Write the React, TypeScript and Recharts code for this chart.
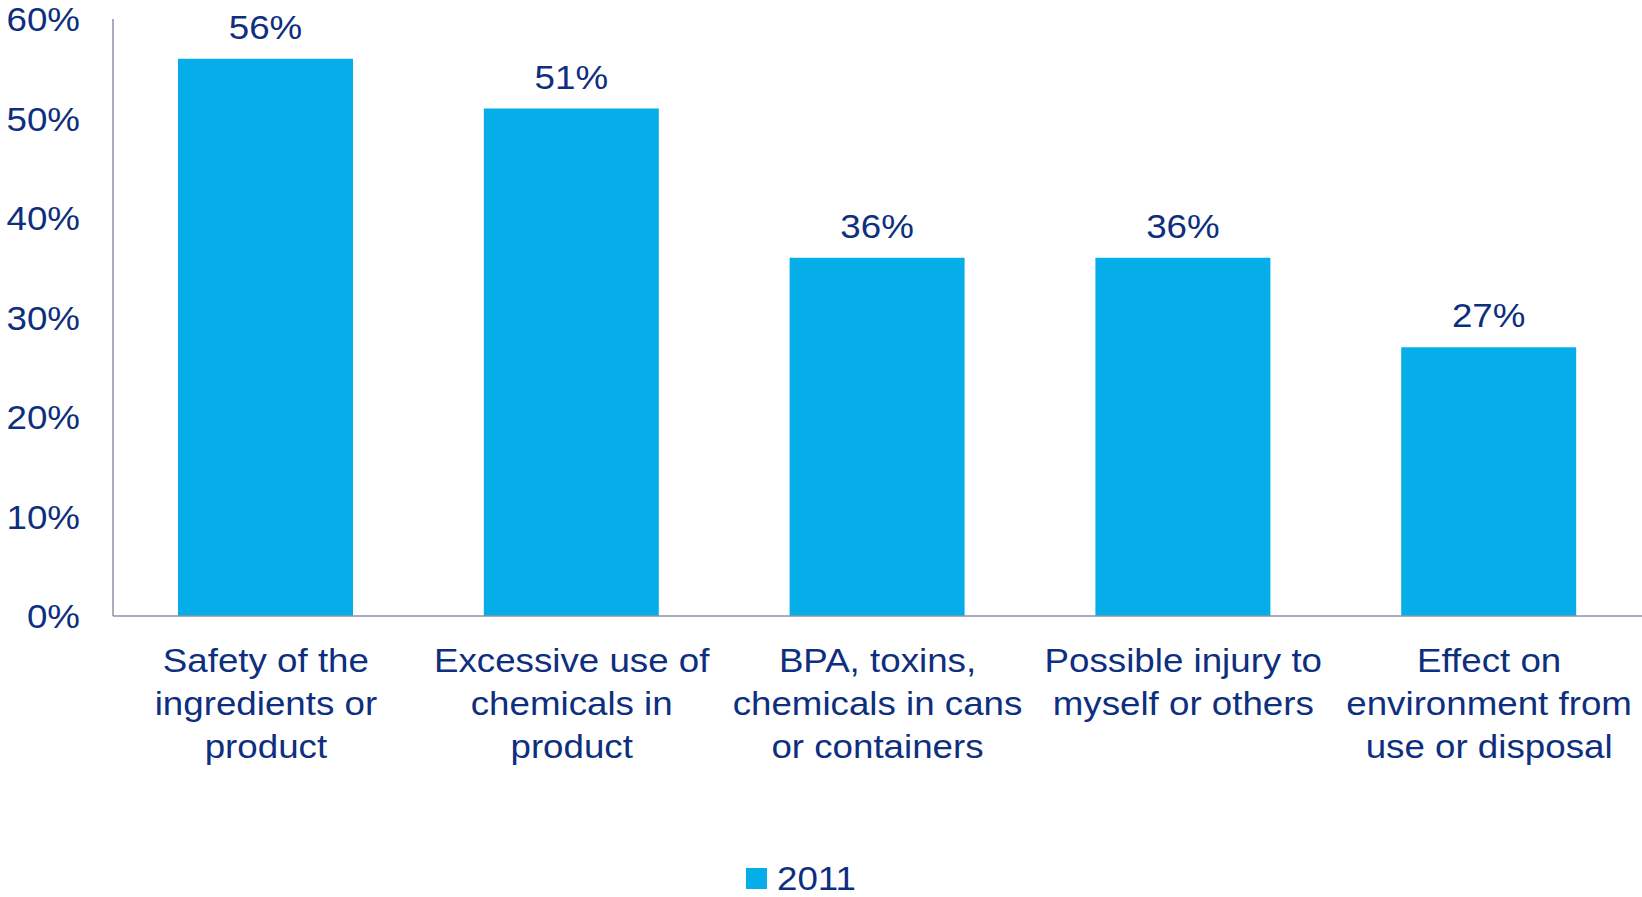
import React from "react";
import { BarChart, Bar, XAxis, YAxis, Legend, LabelList } from "recharts";

const categories = [
  "Safety of the ingredients or product",
  "Excessive use of chemicals in product",
  "BPA, toxins, chemicals in cans or containers",
  "Possible injury to myself or others",
  "Effect on environment from use or disposal",
];
const categoryLines = [
  ["Safety of the", "ingredients or", "product"],
  ["Excessive use of", "chemicals in", "product"],
  ["BPA, toxins,", "chemicals in cans", "or containers"],
  ["Possible injury to", "myself or others"],
  ["Effect on", "environment from", "use or disposal"],
];
const values2011 = [56, 51, 36, 36, 27];
const yTicks = [0, 10, 20, 30, 40, 50, 60];
const seriesName = "2011";

const data = categories.map((c, i) => ({ name: c, lines: categoryLines[i], v: values2011[i] }));

const FONT = "'Liberation Sans', Arial, Helvetica, sans-serif";
const TEXT = "#0E2F7E";
const BAR = "#05AEE9";
const AXIS = "#8C90A8";
const FS = 34;
const SX = 1.08;

const YTick = (props: any) => {
  const { y, payload } = props;
  return (
    <g transform={`translate(80,${y}) scale(${SX},1)`}>
      <text x={0} y={0} dy={12} textAnchor="end" fill={TEXT} fontSize={FS} fontFamily={FONT}>
        {payload.value}%
      </text>
    </g>
  );
};

const XTick = (props: any) => {
  const { x, y, index } = props;
  const lines = categoryLines[index] || [];
  return (
    <g transform={`translate(${x},${y}) scale(${SX},1)`}>
      {lines.map((l, i) => (
        <text key={i} x={0} y={56 + i * 43} textAnchor="middle" fill={TEXT} fontSize={FS} fontFamily={FONT}>
          {l}
        </text>
      ))}
    </g>
  );
};

const ValueLabel = (props: any) => {
  const { x, y, width, value } = props;
  return (
    <g transform={`translate(${x + width / 2},${y - 20}) scale(${SX},1)`}>
      <text x={0} y={0} textAnchor="middle" fill={TEXT} fontSize={FS} fontFamily={FONT}>
        {value}%
      </text>
    </g>
  );
};

const LegendContent = () => (
  <div style={{ position: "relative", width: 1642, height: 32 }}>
    <div style={{ position: "absolute", left: 746, top: 3, width: 21, height: 21, background: BAR }} />
    <svg style={{ position: "absolute", left: 0, top: -24, overflow: "visible" }} width={1642} height={56}>
      <g transform={`translate(777,49) scale(${SX},1)`}>
        <text x={0} y={0} fill={TEXT} fontSize={FS} fontFamily={FONT}>
          {seriesName}
        </text>
      </g>
    </svg>
  </div>
);

export default function App() {
  return (
    <div style={{ position: "absolute", left: 0, top: 0, width: 1642, height: 897, background: "#fff" }}>
      <BarChart
        width={1642}
        height={897}
        data={data}
        margin={{ top: 19, right: 0, bottom: 0, left: 0 }}
        barSize={175}
      >
        <XAxis
          dataKey="name"
          interval={0}
          tick={<XTick />}
          tickLine={false}
          tickSize={0}
          tickMargin={0}
          axisLine={{ stroke: AXIS, strokeWidth: 1.5 }}
          height={249}
        />
        <YAxis
          width={113}
          domain={[0, 60]}
          ticks={yTicks}
          interval={0}
          tick={<YTick />}
          tickLine={false}
          tickSize={0}
          tickMargin={0}
          axisLine={{ stroke: AXIS, strokeWidth: 1.5 }}
        />
        <Legend verticalAlign="bottom" wrapperStyle={{ left: 0, width: 1642, height: 32 }} content={<LegendContent />} />
        <Bar dataKey="v" name={seriesName} fill={BAR} isAnimationActive={false}>
          <LabelList dataKey="v" content={<ValueLabel />} />
        </Bar>
      </BarChart>
    </div>
  );
}
